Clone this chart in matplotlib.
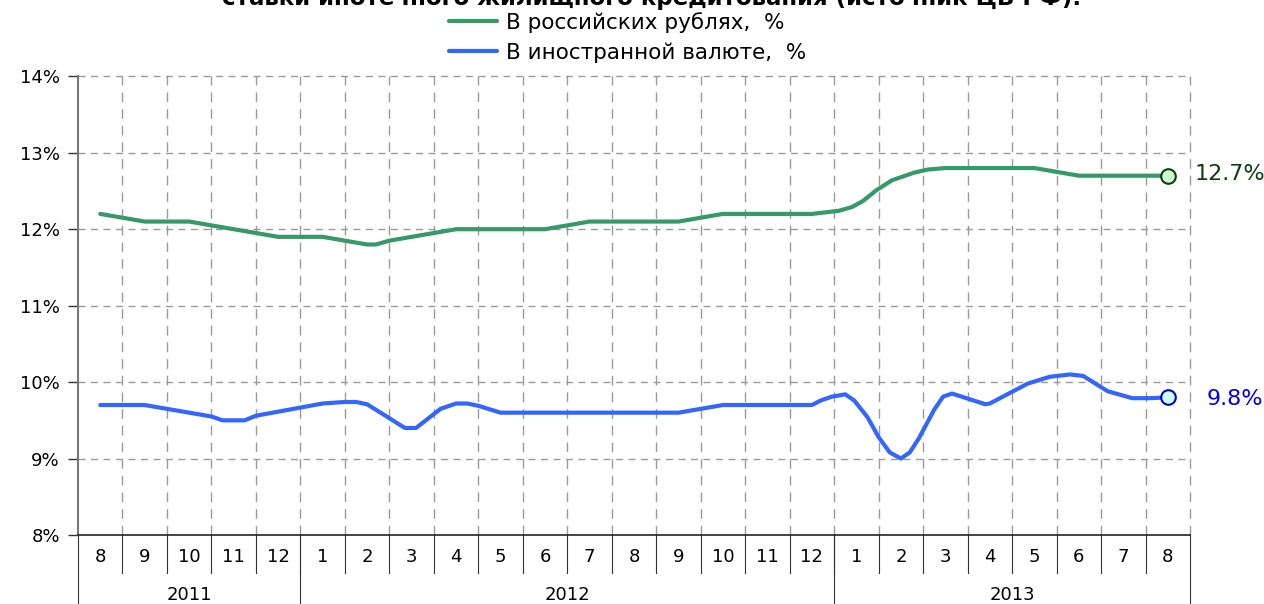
import matplotlib
matplotlib.use("Agg")
import matplotlib.pyplot as plt
import matplotlib.transforms as mtransforms

plt.rcParams["font.family"] = ["DejaVu Sans"]

TITLE = "Средневзвешенные процентные\nставки ипотечного жилищного кредитования (источник ЦБ РФ)."

# Month labels, Aug 2011 .. Aug 2013
months = ["8", "9", "10", "11", "12",
          "1", "2", "3", "4", "5", "6", "7", "8", "9", "10", "11", "12",
          "1", "2", "3", "4", "5", "6", "7", "8"]
years = ["2011", "2012", "2013"]
year_months = [5, 12, 8]

# Rouble mortgage rate, % (position in months from Aug 2011)
rub_x = [0, 1, 2, 4, 5, 6, 6.2, 6.5, 8, 10, 11, 13, 14, 16, 16.6, 16.9, 17.15,
         17.45, 17.8, 18.3, 18.6, 19, 21, 22, 24]
rub_v = [12.2, 12.1, 12.1, 11.9, 11.9, 11.8, 11.8, 11.85, 12.0, 12.0, 12.1, 12.1,
         12.2, 12.2, 12.24, 12.29, 12.37, 12.51, 12.64, 12.74, 12.78, 12.8, 12.8,
         12.7, 12.7]

# Foreign currency mortgage rate, %
fx_x = [0, 1, 2.5, 2.75, 3.25, 3.5, 5, 5.5, 5.75, 6, 6.85, 7.1, 7.65, 8, 8.25,
        8.5, 9, 13, 14, 16, 16.2, 16.45, 16.75, 16.95, 17.25, 17.5, 17.75, 18,
        18.2, 18.4, 18.75, 18.95, 19.15, 19.9, 20, 20.85, 21.35, 21.8, 22.1,
        22.65, 23.2, 23.6, 24]
fx_v = [9.7, 9.7, 9.55, 9.5, 9.5, 9.56, 9.72, 9.74, 9.74, 9.71, 9.4, 9.4, 9.65,
        9.72, 9.72, 9.69, 9.6, 9.6, 9.7, 9.7, 9.76, 9.81, 9.84, 9.76, 9.54, 9.28,
        9.08, 9.0, 9.08, 9.26, 9.64, 9.81, 9.85, 9.71, 9.72, 9.98, 10.07, 10.1,
        10.08, 9.88, 9.79, 9.79, 9.8]

rub_label = "В российских рублях,  %"
fx_label = "В иностранной валюте,  %"

GREEN = "#36996a"
BLUE = "#3366ff"
GRID = "#9a9a9a"
FS = 13
FS_BIG = 16

fig = plt.figure(figsize=(12.64, 6.04), dpi=100)
ax = fig.add_axes([78 / 1264, 1 - 535 / 604, (1190 - 78) / 1264, (535 - 76.3) / 604])

ax.plot(rub_x, rub_v, color=GREEN, linewidth=3, solid_capstyle="round",
        solid_joinstyle="round", label=rub_label, zorder=3)
ax.plot(fx_x, fx_v, color=BLUE, linewidth=3, solid_capstyle="round",
        solid_joinstyle="round", label=fx_label, zorder=3)

# end-point markers with value labels
ax.plot(rub_x[-1], rub_v[-1], "o", ms=10.5, mfc="#ccffcc", mec="#0d3d0d", mew=1.5,
        zorder=4, clip_on=False)
ax.plot(fx_x[-1], fx_v[-1], "o", ms=10.5, mfc="#ccffff", mec="#0000dd", mew=1.5,
        zorder=4, clip_on=False)
ax.annotate(f"{rub_v[-1]:.1f}%", (rub_x[-1], rub_v[-1]), xytext=(97, 2),
            textcoords="offset pixels", ha="right", va="center", fontsize=FS_BIG,
            color="#0d3d0d", annotation_clip=False)
ax.annotate(f"{fx_v[-1]:.1f}%", (fx_x[-1], fx_v[-1]), xytext=(95, -2),
            textcoords="offset pixels", ha="right", va="center", fontsize=FS_BIG,
            color="#0000ee", annotation_clip=False)

n = len(months)
ax.set_xlim(-0.5, n - 0.5)
ax.set_ylim(8, 14)
ax.set_yticks(range(8, 15))
ax.set_yticklabels([f"{v}%" for v in range(8, 15)], fontsize=FS)
ax.tick_params(axis="y", direction="out", length=7, width=1, color="#333333", pad=6)
ax.set_xticks([])

# dashed grid: percent levels and month boundaries
for v in range(9, 15):
    ax.axhline(v, color=GRID, linestyle=(0, (5, 4)), linewidth=1, zorder=1,
               clip_on=False)
for k in range(1, n + 1):
    ax.axvline(k - 0.5, color=GRID, linestyle=(0, (7, 5)), linewidth=1, zorder=1,
               clip_on=False)

for side in ("top", "right"):
    ax.spines[side].set_visible(False)
ax.spines["left"].set_color("#777777")
ax.spines["left"].set_linewidth(1.5)
ax.spines["bottom"].set_color("#222222")
ax.spines["bottom"].set_linewidth(1.2)

# two-level category axis: months, then years
trans = mtransforms.blended_transform_factory(ax.transData, ax.transAxes)
h = 535 - 76.3
for i, m in enumerate(months):
    ax.text(i, -22 / h, m, transform=trans, ha="center", va="center", fontsize=FS)
for k in range(1, n):
    ax.plot([k - 0.5, k - 0.5], [0, -38 / h], transform=trans, color="#333333",
            linewidth=0.8, clip_on=False)
start = 0
edges = [-0.5]
for y, cnt in zip(years, year_months):
    ax.text(start + (cnt - 1) / 2, -60 / h, y, transform=trans, ha="center",
            va="center", fontsize=FS)
    start += cnt
    edges.append(start - 0.5)
for e in edges:
    ax.plot([e, e], [0, -75 / h], transform=trans, color="#333333",
            linewidth=0.8, clip_on=False)

# title sits partly above the top edge of the canvas
fig.text(652 / 1264, 1 - 5 / 604, TITLE, ha="center", va="baseline",
         fontsize=16.5, fontweight="bold", linespacing=1.2)

fig.legend(loc="upper center", bbox_to_anchor=(628 / 1264, 1 - 12 / 604),
           frameon=False, fontsize=FS_BIG - 0.5, handlelength=2.2,
           handletextpad=0.45, labelspacing=0.43, borderpad=0, borderaxespad=0)

fig.savefig("out.png", dpi=100)
